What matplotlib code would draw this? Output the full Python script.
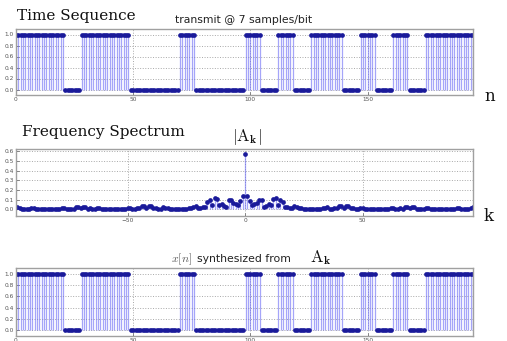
import numpy as np
import matplotlib
matplotlib.use('Agg')
import matplotlib.pyplot as plt

# === DATA ===
bits = [1, 1, 1, 0, 1, 1, 1, 0, 0, 0, 1, 0, 0, 0,
        1, 0, 1, 0, 1, 1, 0, 1, 0, 1, 0, 1, 1, 1]
samples_per_bit = 7
time_xticks = [0, 50, 100, 150]
time_yticks = [0.0, 0.2, 0.4, 0.6, 0.8, 1.0]
freq_xticks = [-50, 0, 50]
freq_yticks = [0.0, 0.1, 0.2, 0.3, 0.4, 0.5, 0.6]

# transmitted sequence, spectrum |A_k| and the resynthesised sequence
x = np.repeat(bits, samples_per_bit).astype(float)
N = len(x)
n = np.arange(N)
A = np.fft.fftshift(np.fft.fft(x) / N)
k = np.arange(-N // 2, N // 2)
x_syn = np.real(np.fft.ifft(np.fft.ifftshift(A) * N))

# === STYLE ===
plt.rcParams['mathtext.fontset'] = 'cm'
W, H = 507, 341
fig = plt.figure(figsize=(W / 100, H / 100), dpi=100)
fig.patch.set_facecolor('white')

def px(left, top, right, bottom):
    return [left / W, 1 - bottom / H, (right - left) / W, (bottom - top) / H]

def stem_plot(ax, xs, ys):
    markerline, stemlines, baseline = ax.stem(xs, ys, linefmt='-', markerfmt='o', basefmt=' ')
    plt.setp(stemlines, color='#6a6af5', alpha=0.6, linewidth=0.9)
    plt.setp(markerline, color='#1a1a9a', markersize=3.4, markeredgewidth=0)
    baseline.set_visible(False)

def style_axes(ax):
    ax.grid(True, linestyle=':', color='#a8a8a8', linewidth=0.7)
    ax.set_axisbelow(True)
    for s in ax.spines.values():
        s.set_color('#a0a0a0')
        s.set_linewidth(1.0)
    ax.tick_params(labelsize=4.2, colors='#555555', length=2, width=0.5,
                   direction='in', pad=1.5)

# --- time sequence ---
ax1 = fig.add_axes(px(16, 29, 473, 95))
stem_plot(ax1, n, x)
ax1.set_xlim(0, N - 1)
ax1.set_ylim(-0.1, 1.1)
ax1.set_xticks(time_xticks)
ax1.set_yticks(time_yticks)
style_axes(ax1)

# --- frequency spectrum ---
ax2 = fig.add_axes(px(16, 149, 473, 216))
stem_plot(ax2, k, np.abs(A))
ax2.set_xlim(k[0] + 0.5, k[-1])
ax2.set_ylim(-0.068, 0.625)
ax2.set_xticks(freq_xticks)
ax2.set_yticks(freq_yticks)
style_axes(ax2)
ax2.set_xticklabels(['\u221250', '0', '50'])

# --- resynthesised ---
ax3 = fig.add_axes(px(16, 268, 473, 336))
stem_plot(ax3, n, x_syn)
ax3.set_xlim(0, N - 1)
ax3.set_ylim(-0.1, 1.1)
ax3.set_xticks(time_xticks)
ax3.set_yticks(time_yticks)
style_axes(ax3)

# === TEXT ===
def ftext(xp, yp, s, **kw):
    fig.text(xp / W, 1 - yp / H, s, va='baseline', **kw)

ftext(17, 20, 'Time Sequence', family='DejaVu Serif', fontsize=11, color='#111111')
ftext(244, 23, 'transmit @ 7 samples/bit', ha='center', fontsize=7.8, color='#222222')
ftext(484, 101, 'n', family='DejaVu Serif', fontsize=12, color='#111111')

ftext(22, 136, 'Frequency Spectrum', family='DejaVu Serif', fontsize=11, color='#111111')
ftext(247, 141, r'$|\mathrm{A}_\mathbf{k}|$', ha='center', fontsize=12, color='#111111')
ftext(484, 221, 'k', family='DejaVu Serif', fontsize=12, color='#111111')

ftext(171, 262, r'$x[n]$', fontsize=8.5, color='#555555')
ftext(197, 262, 'synthesized from', fontsize=7.8, color='#222222')
ftext(310, 262, r'$\mathrm{A}_\mathbf{k}$', fontsize=12, color='#111111')

plt.savefig('out.png', dpi=100)
